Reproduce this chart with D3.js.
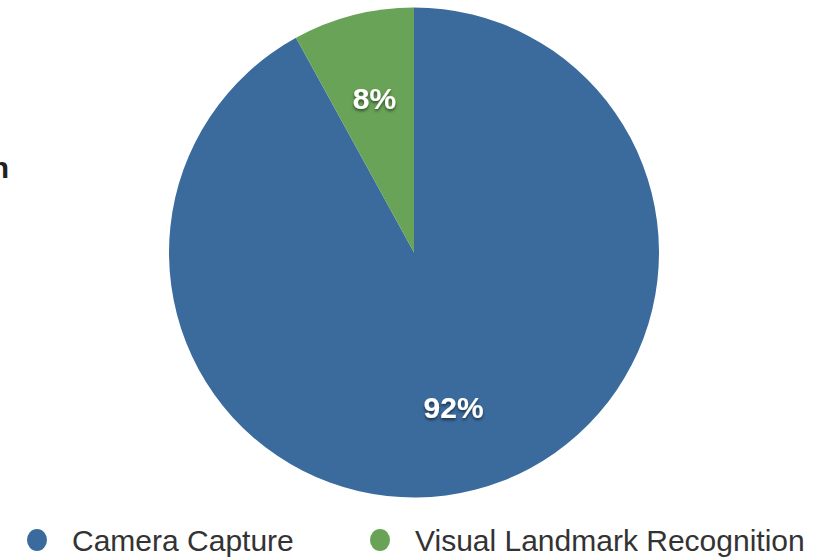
<!DOCTYPE html>
<html>
<head>
<meta charset="utf-8">
<script src="https://cdn.jsdelivr.net/npm/d3@7/dist/d3.min.js"></script>
<style>
  html, body { margin: 0; padding: 0; background: #ffffff; }
  svg { display: block; }
</style>
</head>
<body>
<svg id="chart" width="832" height="557"></svg>
<script>
// Share of captures by source
const categories = ["Camera Capture", "Visual Landmark Recognition"];
const shares = [92, 8];
const sliceLabels = ["92%", "8%"];
const colors = ["#3b6b9c", "#69a357"];
const sideTitle = "n";

const svg = d3.select("#chart");
const W = 832, H = 557;
const cx = 414, cy = 252.5, R = 245;

// soft drop shadow for the slice labels
const defs = svg.append("defs");
const f = defs.append("filter").attr("id", "shadow")
  .attr("x", "-30%").attr("y", "-30%").attr("width", "160%").attr("height", "160%");
f.append("feDropShadow").attr("dx", 0).attr("dy", 2).attr("stdDeviation", 1.6)
  .attr("flood-color", "#000").attr("flood-opacity", 0.55);

// clipped title fragment at the left edge
svg.append("text")
  .attr("x", 9).attr("y", 178)
  .attr("text-anchor", "end")
  .attr("font-family", "Liberation Sans, Arial, sans-serif")
  .attr("font-size", 30).attr("font-weight", "bold")
  .attr("fill", "#222")
  .text(sideTitle);

const data = categories.map((c, i) => ({ name: c, value: shares[i], label: sliceLabels[i], color: colors[i] }));

const pie = d3.pie().value(d => d.value).sort(null);
const arcs = pie(data);
const arc = d3.arc().innerRadius(0).outerRadius(R);
const labelArc = d3.arc().innerRadius(R * 0.65).outerRadius(R * 0.65);

const g = svg.append("g").attr("transform", `translate(${cx},${cy})`);
g.selectAll("path.slice").data(arcs).join("path")
  .attr("class", "slice")
  .attr("d", arc)
  .attr("fill", d => d.data.color);

g.selectAll("text.pct").data(arcs).join("text")
  .attr("class", "pct")
  .attr("transform", d => `translate(${labelArc.centroid(d)})`)
  .attr("text-anchor", "middle")
  .attr("dy", "0.36em")
  .attr("font-family", "Liberation Sans, Arial, sans-serif")
  .attr("font-size", 30).attr("font-weight", "bold")
  .attr("fill", "#ffffff")
  .attr("filter", "url(#shadow)")
  .text(d => d.data.label);

// legend
const legendX = d3.scaleOrdinal().domain(categories).range([37, 380]);
const legend = svg.append("g");
const items = legend.selectAll("g").data(data).join("g")
  .attr("transform", d => `translate(${legendX(d.name)},540)`);
items.append("ellipse").attr("rx", 10).attr("ry", 11).attr("fill", d => d.color);
items.append("text")
  .attr("x", 35).attr("dy", "0.36em")
  .attr("font-family", "Liberation Sans, Arial, sans-serif")
  .attr("font-size", 30)
  .attr("fill", "#333")
  .text(d => d.name);
</script>
</body>
</html>
